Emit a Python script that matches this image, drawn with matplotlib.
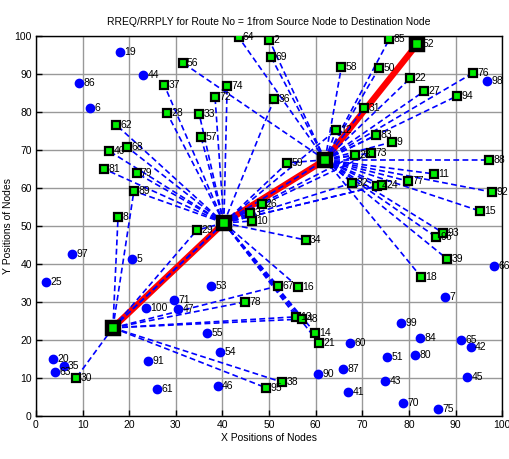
import matplotlib
matplotlib.use("Agg")
import matplotlib.pyplot as plt

# green (participating) nodes
green_ids = ["64", "2", "69", "56", "74", "72", "36", "33", "57", "59", "37", "28",
             "62", "40", "68", "81", "79", "89", "8", "29", "10", "26", "3", "34",
             "67", "16", "78", "13", "48", "14", "21", "38", "95", "30", "85", "58",
             "50", "22", "27", "76", "94", "31", "83", "9", "73", "23", "88", "12",
             "11", "77", "4", "24", "32", "92", "15", "96", "93", "39", "18"]
green_x = [43.5, 50.0, 50.4, 31.5, 41.0, 38.4, 51.1, 35.0, 35.4, 53.9, 27.5, 28.1,
           17.2, 15.7, 19.5, 14.6, 21.6, 21.0, 17.6, 34.5, 46.4, 48.4, 45.9, 57.9,
           51.9, 56.2, 44.8, 55.8, 57.1, 59.9, 60.7, 52.8, 49.4, 8.6, 75.8, 65.5,
           73.6, 80.3, 83.3, 93.8, 90.3, 70.4, 73.0, 76.4, 71.9, 68.5, 97.2, 64.4,
           85.4, 79.8, 73.2, 74.2, 67.8, 97.9, 95.3, 85.8, 87.3, 88.2, 82.6]
green_y = [99.6, 99.0, 94.5, 92.9, 86.8, 83.9, 83.4, 79.5, 73.4, 66.6, 87.1, 79.7,
           76.6, 69.7, 70.8, 65.0, 63.9, 59.2, 52.4, 48.9, 51.3, 55.8, 53.4, 46.3,
           34.2, 34.0, 30.0, 26.1, 25.5, 21.8, 19.2, 8.9, 7.4, 10.0, 99.2, 91.8,
           91.6, 88.9, 85.5, 90.3, 84.2, 81.0, 73.9, 72.1, 69.2, 68.7, 67.4, 75.3,
           63.7, 61.8, 60.5, 60.8, 61.3, 58.9, 53.9, 47.1, 48.2, 41.3, 36.6]

# blue (idle) nodes
blue_ids = ["19", "44", "86", "6", "97", "5", "25", "53", "100", "71", "47", "20",
            "35", "63", "91", "61", "55", "54", "46", "90", "7", "99", "60", "84",
            "65", "42", "51", "80", "87", "45", "43", "41", "70", "75", "98", "66"]
blue_x = [18.0, 23.0, 9.2, 11.6, 7.7, 20.6, 2.1, 37.6, 23.6, 29.6, 30.5, 3.6,
          6.0, 4.1, 24.0, 26.0, 36.7, 39.5, 39.0, 60.5, 87.8, 78.3, 67.4, 82.4,
          91.2, 93.3, 75.3, 81.3, 65.9, 92.5, 74.9, 67.0, 78.8, 86.3, 96.8, 98.3]
blue_y = [95.8, 89.7, 87.6, 81.0, 42.6, 41.3, 35.3, 34.2, 28.4, 30.5, 28.2, 15.0,
          13.2, 11.6, 14.5, 7.1, 21.8, 16.8, 7.9, 11.0, 31.3, 24.5, 19.2, 20.5,
          20.0, 18.2, 15.5, 16.0, 12.4, 10.3, 9.2, 6.3, 3.4, 1.8, 88.2, 39.5]

# route nodes: source -> ... -> destination
route_ids = ["1", "49", "82", "52"]
route_x = [16.5, 40.3, 62.0, 81.8]
route_y = [23.2, 50.8, 67.4, 97.9]

# RREQ links from each route node
links = {
    "1": ["30", "29", "8", "89", "78", "67", "13", "48", "95", "38", "49"],
    "49": ["29", "34", "10", "26", "3", "57", "33", "72", "74", "36", "28", "37",
           "62", "40", "68", "81", "79", "89", "67", "16", "48", "13", "14", "21",
           "59", "12", "23", "73", "32", "4", "24", "82", "1"],
    "82": ["64", "2", "69", "56", "58", "85", "50", "31", "22", "27", "76", "94",
           "83", "9", "73", "23", "12", "88", "11", "77", "4", "24", "32", "92",
           "15", "96", "93", "39", "18", "59"],
}

pos = {}
for i, n in enumerate(green_ids):
    pos[n] = (green_x[i], green_y[i])
for i, n in enumerate(route_ids):
    pos[n] = (route_x[i], route_y[i])

lab_font = ['Liberation Sans Narrow', 'Liberation Sans', 'DejaVu Sans']

fig = plt.figure(figsize=(5.09, 4.59), dpi=100)
ax = fig.add_axes([0.0707, 0.0937, 0.916, 0.828])

# red route
ax.plot(route_x, route_y, color='red', lw=4.5, solid_capstyle='butt', zorder=3)

for src, dsts in links.items():
    x0, y0 = pos[src]
    for d in dsts:
        x1, y1 = pos[d]
        ax.plot([x0, x1], [y0, y1], color='blue', ls='--', lw=1.2,
                dashes=(3.5, 2), zorder=4)

ax.plot(blue_x, blue_y, 'o', color='blue', ms=6, zorder=5)
ax.plot(green_x, green_y, 's', mfc='#00ee00', mec='black', mew=1.6, ms=6, zorder=5)
ax.plot(route_x, route_y, 's', mfc='#00ee00', mec='black', mew=3.2, ms=8.5, zorder=6)

for i, n in enumerate(green_ids):
    ax.annotate(n, (green_x[i], green_y[i]), xytext=(3, 0), textcoords='offset points',
                va='center', ha='left', fontsize=7.5, family=lab_font, zorder=7)
for i, n in enumerate(blue_ids):
    ax.annotate(n, (blue_x[i], blue_y[i]), xytext=(3, 0), textcoords='offset points',
                va='center', ha='left', fontsize=7.5, family=lab_font, zorder=7)
ax.annotate(route_ids[-1], (route_x[-1], route_y[-1]), xytext=(4, 0),
            textcoords='offset points', va='center', ha='left', fontsize=7.5,
            family=lab_font, zorder=7)

ax.set_xlim(0, 100)
ax.set_ylim(0, 100)
ax.set_xticks(range(0, 101, 10))
ax.set_yticks(range(0, 101, 10))
ax.grid(True, color='#999999', lw=1, zorder=0)
ax.set_axisbelow(True)
ax.tick_params(direction='in', length=4, width=1, labelsize=7.5, pad=3)
for lbl in ax.get_xticklabels() + ax.get_yticklabels():
    lbl.set_family(lab_font)
for sp in ax.spines.values():
    sp.set_linewidth(1)

ax.set_xlabel('X Positions of Nodes', fontsize=7.5, family=lab_font, labelpad=2)
ax.set_ylabel('Y Positions of Nodes', fontsize=7.5, family=lab_font, labelpad=1)
ax.set_title('RREQ/RRPLY for Route No = 1from Source Node to Destination Node',
             fontsize=7.5, family=lab_font, pad=8)

fig.savefig('out.png', dpi=100)
